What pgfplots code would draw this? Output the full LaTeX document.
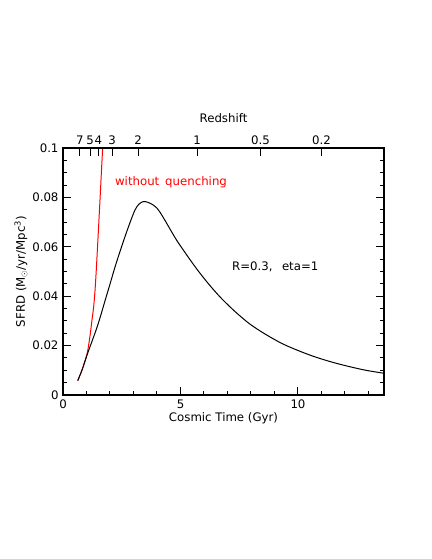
\documentclass[border=0pt]{standalone}
\usepackage{pgfplots}
\pgfplotsset{compat=1.18}
\usetikzlibrary{calc}
\usepackage{fontspec}
\setmainfont{DejaVu Sans}
\begin{document}
\begin{tikzpicture}[font=\fontsize{11.8}{13.5}\selectfont]
\pgfplotsset{
  common/.style={
    scale only axis, width=321bp, height=247bp,
    at={(0,0)}, anchor=south west,
    xmin=0, xmax=13.66, ymin=0, ymax=0.1,
    axis line style={line width=1.2pt},
    tick style={line width=1pt, black},
    major tick length=8bp, minor tick length=4bp,
    tick align=inside,
  }
}
\begin{axis}[common,
  xtick={0,5,10}, xticklabels={0,5,10},
  minor xtick={1,2,3,4,6,7,8,9,11,12,13},
  xtick pos=lower,
  ytick={0,0.02,0.04,0.06,0.08,0.1},
  yticklabels={0,0.02,0.04,0.06,0.08,0.1},
  minor ytick={0.005,0.01,0.015,0.025,0.03,0.035,0.045,0.05,0.055,0.065,0.07,0.075,0.085,0.09,0.095},
  ytick pos=both,
  xticklabel style={yshift=-1bp},
  yticklabel style={xshift=-1bp},
  xlabel={Cosmic Time (Gyr)},
  ylabel={SFRD (M\textsubscript{$\odot$}/yr/Mpc\textsuperscript{3})},
  xlabel style={yshift=3bp},
  ylabel style={yshift=-2bp},
  clip=true,
]
\addplot[red, line width=1pt, smooth, tension=0.5] coordinates {
(0.626,0.0058) (0.809,0.0101) (0.979,0.0150) (1.064,0.0186) (1.149,0.0239) (1.234,0.0304) (1.289,0.0344) (1.332,0.0385) (1.370,0.0433) (1.404,0.0486) (1.447,0.0559) (1.574,0.0789) (1.689,0.1000) (1.745,0.1053)
};
\addplot[black, line width=1pt, smooth, tension=0.5] coordinates {
(0.626,0.0058) (0.809,0.0101) (0.979,0.0150) (1.221,0.0214) (1.404,0.0262) (1.574,0.0312) (1.787,0.0381) (2.000,0.0449) (2.213,0.0518) (2.426,0.0581) (2.638,0.0641) (2.851,0.0698) (3.064,0.0749) (3.234,0.0773) (3.417,0.0783) (3.617,0.0780) (3.843,0.0769) (3.983,0.0758) (4.128,0.0740) (4.340,0.0707) (4.553,0.0672) (4.834,0.0627) (5.119,0.0587) (5.472,0.0539) (5.830,0.0493) (6.289,0.0439) (6.753,0.0390) (7.319,0.0338) (7.928,0.0289) (8.596,0.0247) (9.349,0.0207) (10.085,0.0177) (10.766,0.0153) (11.489,0.0132) (12.183,0.0115) (12.894,0.0100) (13.660,0.0088)
};
\node[red, anchor=west, inner sep=0pt] at (axis cs:2.21,0.0862) {without\hspace{0.5em}quenching};
\node[anchor=west, inner sep=0pt] at (axis cs:7.19,0.052) {R=0.3,\hspace{0.8em}eta=1};
\coordinate (sw) at (rel axis cs:0,0);
\coordinate (ne) at (rel axis cs:1,1);
\end{axis}
\begin{axis}[common,
  axis x line*=top, axis y line=none,
  xtick={0.72,1.15,1.50,2.09,3.2,5.71,8.40,11.0},
  xticklabels={7,5,4,3,2,1,0.5,0.2},
  xticklabel pos=upper,
  minor xtick={},
  xlabel={Redshift},
  xlabel style={yshift=6bp},
  ytick=\empty,
]
\end{axis}
\path ($(sw)+(-63bp,-164bp)$) rectangle ($(ne)+(48bp,148bp)$);
\end{tikzpicture}
\end{document}
